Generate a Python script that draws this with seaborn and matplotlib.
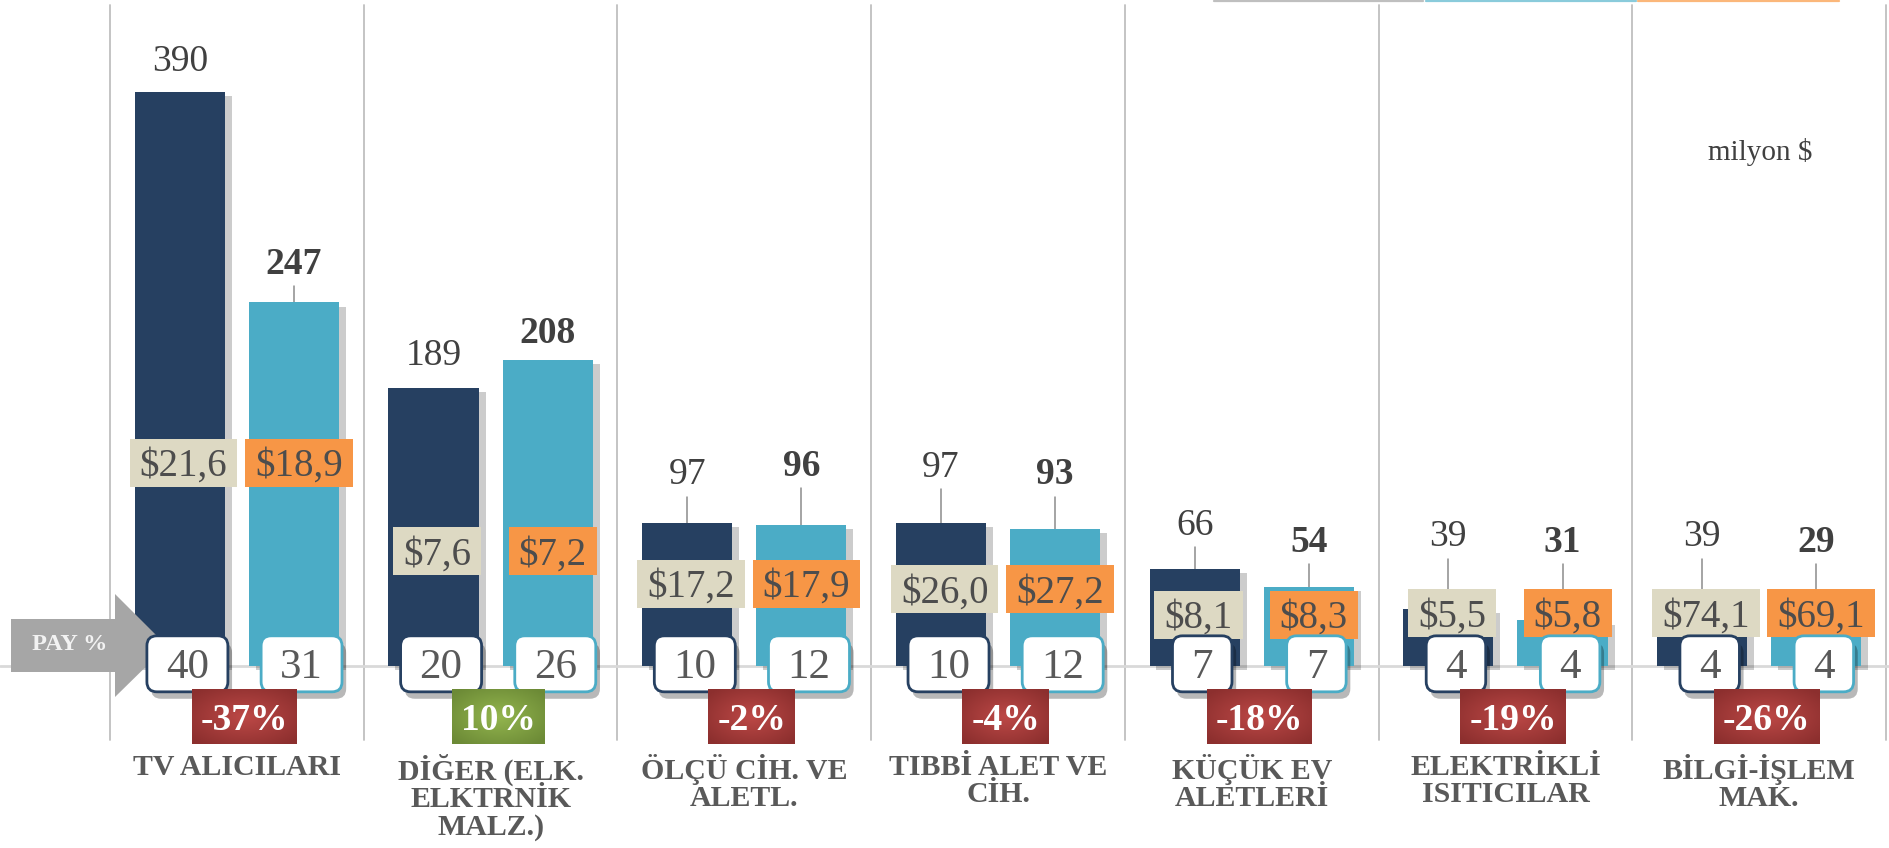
import matplotlib
matplotlib.use("Agg")
import numpy as np
import pandas as pd
import matplotlib.pyplot as plt
import seaborn as sns
import matplotlib.patheffects as pe
from matplotlib.patches import FancyBboxPatch, Polygon
from matplotlib.transforms import IdentityTransform
from matplotlib.lines import Line2D
from matplotlib.colors import LinearSegmentedColormap

# ---------------- data ----------------
categories = ["TV ALICILARI", "DİĞER (ELK.\nELKTRNİK\nMALZ.)", "ÖLÇÜ CİH. VE\nALETL.",
              "TIBBİ ALET VE\nCİH.", "KÜÇÜK EV\nALETLERİ", "ELEKTRİKLİ\nISITICILAR",
              "BİLGİ-İŞLEM\nMAK."]
values_prev = [390, 189, 97, 97, 66, 39, 39]
values_curr = [247, 208, 96, 93, 54, 31, 29]
price_prev = ["$21,6", "$7,6", "$17,2", "$26,0", "$8,1", "$5,5", "$74,1"]
price_curr = ["$18,9", "$7,2", "$17,9", "$27,2", "$8,3", "$5,8", "$69,1"]
share_prev = [40, 20, 10, 10, 7, 4, 4]
share_curr = [31, 26, 12, 12, 7, 4, 4]
change_pct = [-37, 10, -2, -4, -18, -19, -26]

# label layout (data units)
value_label_y_prev = [413, 213, 132, 137, 98, 90, 90]
value_label_y_curr = [275, 228, 138, 132, 86, 86, 86]
price_label_y = [138, 78, 56, 52, 35, 36, 36]

# ---------------- style ----------------
NAVY = "#264061"
BLUE = "#4BACC6"
ORANGE = "#F79646"
BEIGE = "#DDD9C3"
TXT = "#404040"
RED_GRAD = LinearSegmentedColormap.from_list("redg", ["#BC4846", "#8C2F2E"])
GREEN_GRAD = LinearSegmentedColormap.from_list("greeng", ["#93B54E", "#6C8A36"])

sns.set_theme(style="white")
plt.rcParams['font.family'] = ['Liberation Serif', 'DejaVu Serif']

W, H, DPI = 1890, 848, 100
fig = plt.figure(figsize=(W / DPI, H / DPI), dpi=DPI)
ax = fig.add_axes([0, 0, 1, 1])

df = pd.DataFrame({
    "cat": categories * 2,
    "val": values_prev + values_curr,
    "series": ["prev"] * len(categories) + ["curr"] * len(categories),
})
sns.barplot(data=df, x="cat", y="val", hue="series", hue_order=["prev", "curr"],
            palette=[NAVY, BLUE], width=0.9, gap=0.21, saturation=1,
            errorbar=None, legend=False, linewidth=0, ax=ax, zorder=3)

for p in ax.patches:
    p.set_path_effects([pe.SimplePatchShadow(offset=(5, -3), shadow_rgbFace="#000000", alpha=0.2),
                        pe.Normal()])

XLIM = (-0.9336, 6.5158)
YLIM = (-123.6, 452.4)
ax.set_xlim(*XLIM)
ax.set_ylim(*YLIM)
ax.axis("off")

# separators and baseline
for k in range(len(categories) + 1):
    ax.plot([k - 0.5, k - 0.5], [-50, 449], color="#BFBFBF", lw=1.3, zorder=1)
ax.axhline(0, color="#D9D9D9", lw=2, zorder=1)

x_prev = [p.get_x() + p.get_width() / 2 for p in ax.containers[0]]
x_curr = [p.get_x() + p.get_width() / 2 for p in ax.containers[1]]

fig.canvas.draw()
renderer = fig.canvas.get_renderer()

yy, xx = np.mgrid[-1:1:60j, -1:1:120j]
radial = np.clip(np.sqrt(xx ** 2 + yy ** 2) / 1.3, 0, 1)


def ctext(x, y, s, size, **kw):
    return ax.annotate(s, (x, y), xytext=(0, -0.34 * size), textcoords="offset points",
                       ha="center", va="baseline", fontsize=size, **kw)


def boxed(x, y, s, size, face, edge=None, lw=0, padx=10, h=50, rnd=0,
          weight="normal", color="#4D4D4D", z=5, shadow=False, grad=None):
    t = ctext(x, y, s, size, color=color, weight=weight, zorder=z + 0.5)
    bb = t.get_window_extent(renderer=renderer)
    cx, cy = ax.transData.transform((x, y))
    w = bb.width + 2 * padx
    style = f"round,pad=0,rounding_size={rnd}" if rnd else "square,pad=0"
    patch = FancyBboxPatch((cx - w / 2, cy - h / 2), w, h, boxstyle=style,
                           transform=IdentityTransform(), facecolor=face,
                           edgecolor=edge if edge else face, linewidth=lw, zorder=z)
    if shadow:
        patch.set_path_effects([pe.SimplePatchShadow(offset=(3, -5), shadow_rgbFace="#000000", alpha=0.28),
                                pe.Normal()])
    ax.add_patch(patch)
    if grad is not None:
        inv = ax.transData.inverted()
        (x0, y0) = inv.transform((cx - w / 2, cy - h / 2))
        (x1, y1) = inv.transform((cx + w / 2, cy + h / 2))
        im = ax.imshow(radial, cmap=grad, extent=(x0, x1, y0, y1), aspect="auto",
                       origin="lower", zorder=z + 0.1, interpolation="bilinear")
        im.set_clip_path(patch)
    return t


for i in range(len(categories)):
    # value labels with leader lines
    for xs, vals, ly, wt in ((x_prev, values_prev, value_label_y_prev, "normal"),
                             (x_curr, values_curr, value_label_y_curr, "bold")):
        ctext(xs[i], ly[i], str(vals[i]), 27, color=TXT, weight=wt, zorder=6)
        start = ly[i] - 17
        if start - vals[i] > 8:
            ax.plot([xs[i], xs[i]], [start, vals[i]], color="#8C8C8C", lw=1.1, zorder=2)
    # price boxes
    boxed(x_prev[i] + 0.015, price_label_y[i], price_prev[i], 28, BEIGE, padx=10, h=48, z=4)
    boxed(x_curr[i] + 0.02, price_label_y[i], price_curr[i], 28, ORANGE, padx=10, h=48, z=4)
    # share boxes
    boxed(x_prev[i] + 0.03, 1.5, str(share_prev[i]), 31, "white", edge=NAVY, lw=2,
          padx=19, h=56, rnd=10, color="#595959", z=7, shadow=True)
    boxed(x_curr[i] + 0.03, 1.5, str(share_curr[i]), 31, "white", edge=BLUE, lw=2,
          padx=19, h=56, rnd=10, color="#595959", z=7, shadow=True)
    # change box
    c = change_pct[i]
    boxed(i + 0.03, -34.5, f"{c}%", 27, "#A33C3A" if c < 0 else "#7E9A3F", padx=9, h=55,
          weight="bold", color="white", z=8, grad=RED_GRAD if c < 0 else GREEN_GRAD)
    # category label
    ax.text(i, -59.5, categories[i], ha="center", va="top", fontsize=21.5, weight="bold",
            color="#595959", linespacing=1.02, zorder=6)

ax.set_xlim(*XLIM)
ax.set_ylim(*YLIM)


# PAY % arrow (pixel coordinates, origin bottom-left)
def P(xp, yp):
    return (xp, H - yp)


arrow = Polygon([P(11, 619), P(115, 619), P(115, 594), P(167, 646), P(115, 697),
                 P(115, 672), P(11, 672)], closed=True, transform=IdentityTransform(),
                facecolor="#A6A6A6", edgecolor="none", zorder=6)
ax.add_patch(arrow)
fig.text(70 / W, 1 - 645 / H, "PAY %", ha="center", va="center", fontsize=17.5,
         weight="bold", color="#F2F2F2", zorder=7)

# unit note
fig.text(1760 / W, 1 - 152 / H, "milyon $", ha="center", va="center", fontsize=21, color=TXT)

# clipped legend strokes at top edge
for (x0, x1), col in (((1214, 1423), "#BFBFBF"), ((1426, 1636), "#8ACBDB"), ((1638, 1839), "#FBB77A")):
    fig.add_artist(Line2D([x0 / W, x1 / W], [1 - 1 / H, 1 - 1 / H], transform=fig.transFigure,
                          color=col, lw=1.6))

fig.savefig("out.png", dpi=DPI)
